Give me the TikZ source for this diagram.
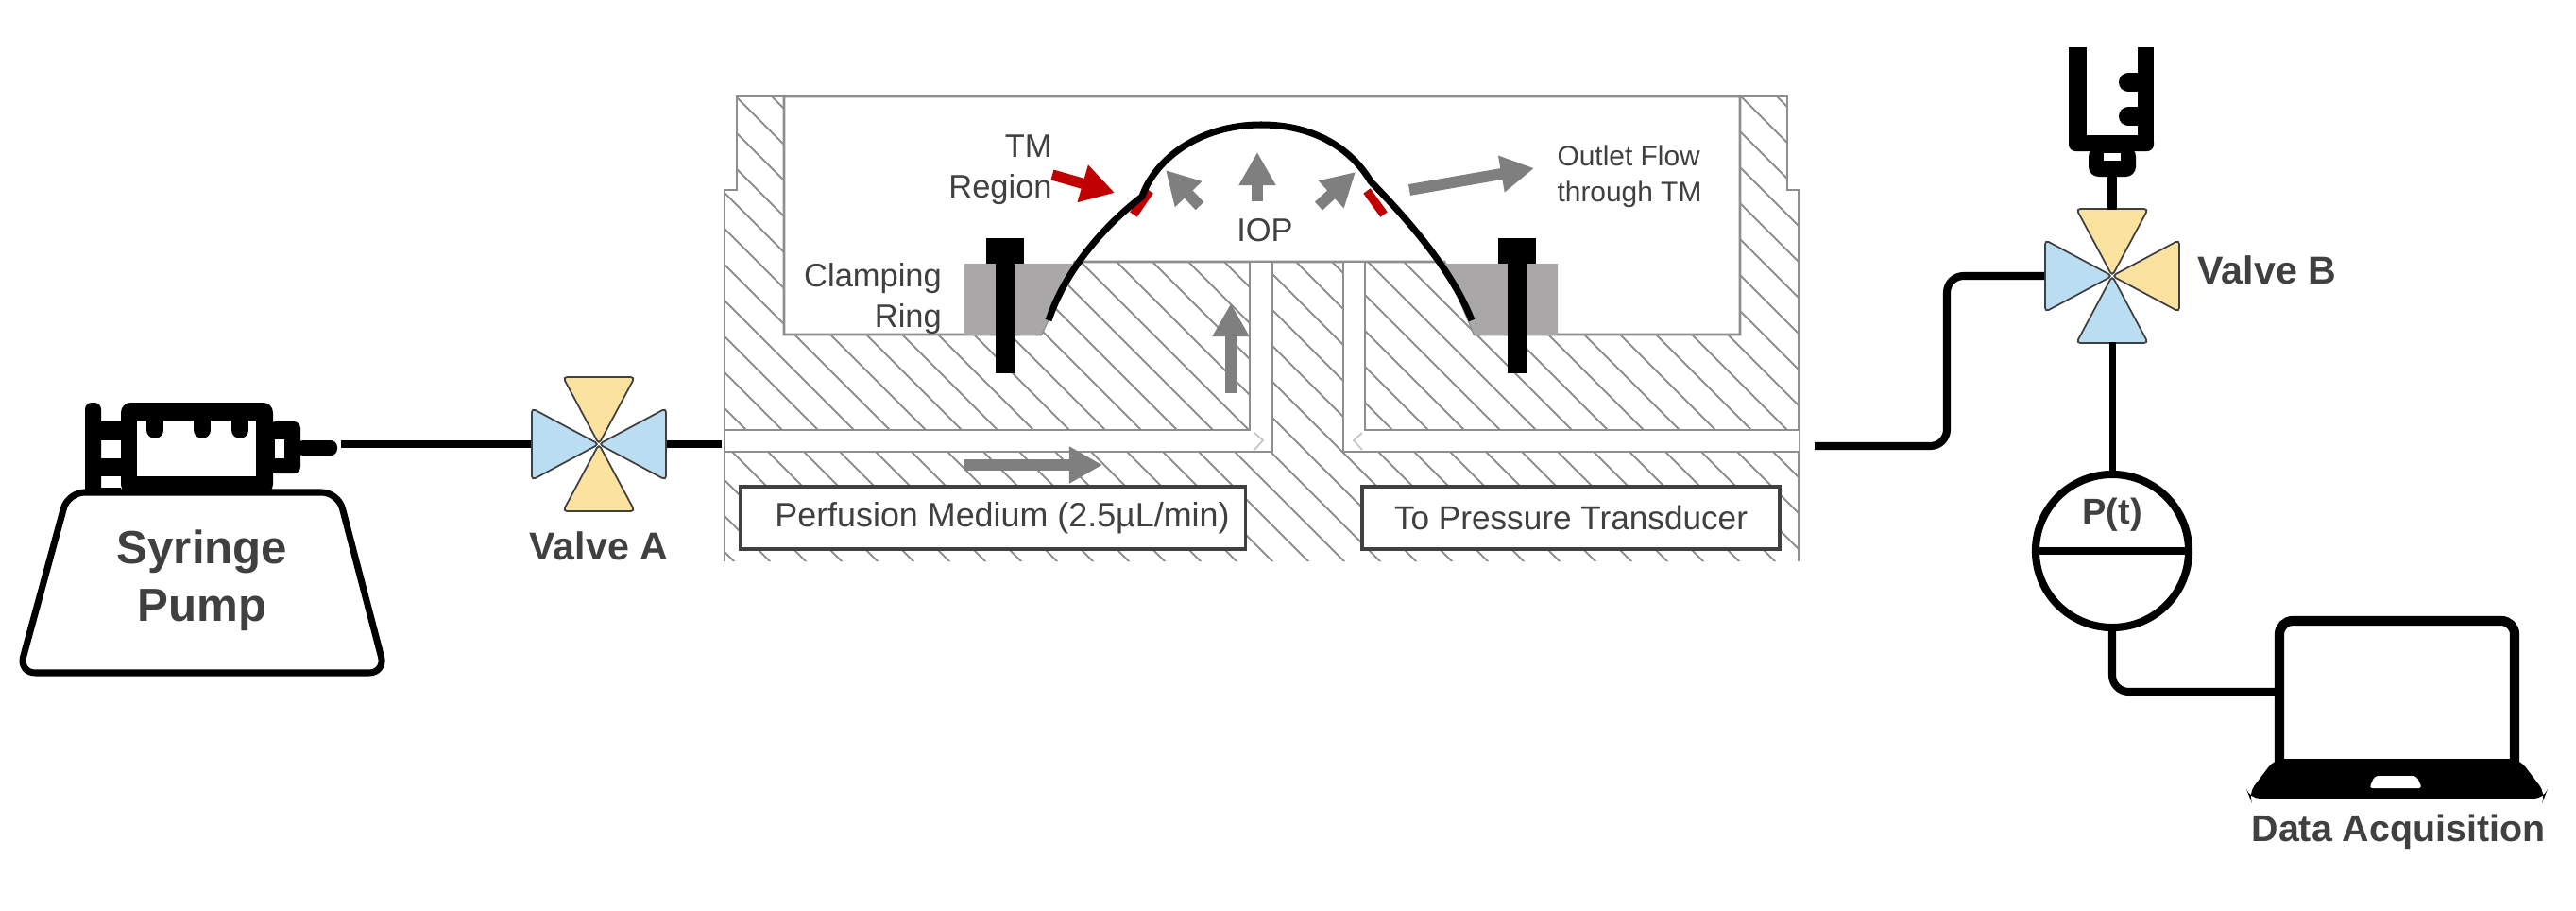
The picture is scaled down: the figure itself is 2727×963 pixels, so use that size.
\documentclass[tikz,border=0pt]{standalone}
\usepackage{fontspec}
\setmainfont{Liberation Sans}
\usetikzlibrary{calc,arrows.meta,positioning}
\definecolor{steel}{HTML}{8E8E8E}
\definecolor{ink}{HTML}{404040}
\definecolor{flow}{HTML}{7F7F7F}
\definecolor{ringgray}{HTML}{A9A7A7}
\definecolor{tmred}{HTML}{C00000}
\definecolor{valveblue}{HTML}{BBDDF2}
\definecolor{valvesand}{HTML}{FBE29F}
\newcommand{\valve}[7]{%
\foreach \armfill/\armrot in {#4/0,#5/90,#6/180,#7/270}{
\filldraw[fill=\armfill,draw=black!75,line width=.5pt,rounded corners=1.2pt,shift={(#2,#3)},rotate=\armrot] (0,0)--(-38,-71)--(38,-71)--cycle;}
\coordinate (#1top) at (#2,#3-70);\coordinate (#1right) at (#2+72,#3);
\coordinate (#1bottom) at (#2,#3+70);\coordinate (#1left) at (#2-72,#3);}
\newcommand{\bolt}[1]{\fill[black] (#1-20,252) rectangle (#1+20,279);\fill[black] (#1-10,279) rectangle (#1+10,395);}
\tikzset{
pipe/.style={line width=2.3pt,black},
flowarrow/.style={flow,line width=3.4pt,-{Triangle[length=10pt,width=10.5pt]}},
flowbox/.style={draw=ink,fill=white,line width=1pt,text=ink,font=\fontsize{10}{12}\selectfont,minimum height=.66cm,inner xsep=0pt},
bigtext/.style={text=ink,font=\bfseries\fontsize{11.7}{14}\selectfont,inner sep=0pt},
smalltext/.style={text=ink,font=\fontsize{9.8}{12.3}\selectfont,inner sep=0pt,align=right},
}
\begin{document}
\begin{tikzpicture}[x=.01cm,y=-.01cm]
\useasboundingbox (0,0) rectangle (2727,963);
\begin{scope}
\clip (767,594)--(767,201)--(780,201)--(780,102)--(1892,102)--(1892,201)--(1904,201)--(1904,594)--cycle;
\foreach \hatchc in {-1817,-1779,...,-145}{\draw[steel,line width=.55pt] (700,700+\hatchc)--(2000,2000+\hatchc);}
\end{scope}
\draw[steel,line width=.8pt] (767,594)--(767,201)--(780,201)--(780,102)--(1892,102)--(1892,201)--(1904,201)--(1904,594);
\filldraw[fill=white,draw=steel,line width=.8pt] (830,102)--(830,354)--(1102,354)--(1138,277)--(1529,277)--(1561,354)--(1842,354)--(1842,102)--cycle;
\filldraw[fill=white,draw=steel,line width=.8pt] (767,455)--(1323,455)--(1323,277)--(1347,277)--(1347,478)--(767,478);
\filldraw[fill=white,draw=steel,line width=.8pt] (1904,455)--(1445,455)--(1445,277)--(1422,277)--(1422,478)--(1904,478);
\draw[steel!50,line width=.5pt] (1328,458)--(1337,466)--(1328,476);
\draw[steel!50,line width=.5pt] (1442,458)--(1433,466)--(1442,476);
\fill[ringgray] (1021,279)--(1138,279)--(1102,354)--(1021,354)--cycle;
\fill[ringgray] (1529,279)--(1649,279)--(1649,354)--(1561,354)--cycle;
\bolt{1064}
\bolt{1606}
\draw[tmred,line width=2.6pt] (1200,227)--(1217,202);
\draw[tmred,line width=2.6pt] (1447,202)--(1465,227);
\draw[black,line width=2pt] (1110,339) .. controls (1128,285) and (1170,238) .. (1209,208) .. controls (1222,170) and (1268,132) .. (1335,132) .. controls (1400,132) and (1435,165) .. (1451,192) .. controls (1480,222) and (1535,280) .. (1558,339);
\draw[flowarrow] (1303,416)--(1303,321);
\draw[flowarrow] (1020,492)--(1167,492);
\draw[flowarrow] (1331,213)--(1331,161);
\draw[flowarrow] (1396,218)--(1435,182);
\draw[flowarrow] (1270,218)--(1234,180);
\draw[flowarrow] (1492,201)--(1624,178);
\draw[tmred,line width=3.2pt,-{Triangle[length=10pt,width=11pt]}] (1114,185)--(1180,204);
\node[flowbox,minimum width=5.35cm,font=\fontsize{10.2}{12}\selectfont] (perfusion) at (1051,548){\hspace*{.2cm}Perfusion Medium (2.5µL/min)};
\node[flowbox,minimum width=4.42cm] (transducer) at (1663,548){To Pressure Transducer};
\node[smalltext] (tmlabel) at (1059,180){TM\\Region};
\node[smalltext] (ringlabel) at (924,316){Clamping\\Ring};
\node[smalltext] (ioplabel) at (1339,244){IOP};
\node[smalltext,font=\fontsize{8.5}{10.8}\selectfont,align=left] (outletlabel) at (1725,187){Outlet Flow\\through TM};
\filldraw[fill=white,draw=black,line width=2pt,rounded corners=5pt] (72,521)--(358,521)--(408,712)--(20,712)--cycle;
\node[bigtext,font=\bfseries\fontsize{14}{17.4}\selectfont,align=center] (pumplabel) at (214,614){Syringe\\Pump};
\fill[black,rounded corners=2pt] (90,426) rectangle (107,523);
\fill[black] (107,446) rectangle (128,466);
\fill[black] (107,485) rectangle (128,504);
\fill[black] (107,516) rectangle (128,523);
\fill[black,rounded corners=3pt] (128,426) rectangle (289,523);
\fill[white] (145,445) rectangle (271,504);
\foreach \tickx in {164,214,254}{\fill[black] (\tickx-9,445) rectangle (\tickx+9,455);\fill[black] (\tickx,455) circle[radius=9];}
\fill[black,rounded corners=2pt] (285,446) rectangle (318,501);
\fill[white] (291,465) rectangle (301,485);
\fill[black,rounded corners=2pt] (314,466) rectangle (357,482);
\coordinate (pumptip) at (361,470);
\valve{valveA}{634}{470}{valvesand}{valveblue}{valvesand}{valveblue}
\node[bigtext] (valveAlabel) at (634,578){Valve A};
\coordinate (blockin) at (764,470);
\draw[pipe] (pumptip)--(valveAleft);
\draw[pipe] (valveAright)--(blockin);
\fill[black] (2190,50) rectangle (2209,150);
\fill[black] (2263,50) rectangle (2280,150);
\fill[black,rounded corners=2pt] (2190,143) rectangle (2280,160);
\foreach \ticky in {87,123}{\fill[black] (2253,\ticky) circle[radius=10];\fill[black] (2253,\ticky-10) rectangle (2264,\ticky+10);}
\fill[black,rounded corners=3pt] (2211,155) rectangle (2261,187);
\fill[white] (2227,162) rectangle (2245,170);
\valve{valveB}{2236}{292}{valvesand}{valveblue}{valveblue}{valvesand}
\coordinate (needle) at (2236,185);
\draw[black,line width=2.6pt] (needle)--(valveBtop);
\node[bigtext,right=0pt of valveBright,xshift=.18cm,yshift=.06cm] (valveBlabel) {Valve B};
\coordinate (blockout) at (1921,472);
\draw[pipe,rounded corners=5pt] (blockout)--(2061,472)--(2061,292)--(valveBleft);
\node[circle,draw=black,line width=2.3pt,minimum size=1.62cm,inner sep=0pt] (sensor) at (2236,583){};
\draw[pipe] (sensor.west)--(sensor.east);
\node[bigtext,font=\bfseries\fontsize{10.8}{13}\selectfont] (sensorlabel) at (2236,545){P(t)};
\draw[line width=2pt,black] (valveBbottom)--(sensor.north);
\coordinate (laptopin) at (2408,732);
\draw[pipe,rounded corners=5pt] (sensor.south)--(2236,732)--(laptopin);
\draw[black,line width=2.9pt,rounded corners=4pt] (2413,808)--(2413,657)--(2662,657)--(2662,808);
\fill[black,rounded corners=3pt] (2408,803)--(2667,803)--(2695,840)--(2693,845)--(2382,845)--(2380,840)--cycle;
\fill[white,rounded corners=1pt] (2514,821)--(2558,821)--(2564,834)--(2508,834)--cycle;
\node[bigtext,font=\bfseries\fontsize{11.2}{14}\selectfont] (laptoplabel) at (2539,880){Data Acquisition};
\end{tikzpicture}
\end{document}
